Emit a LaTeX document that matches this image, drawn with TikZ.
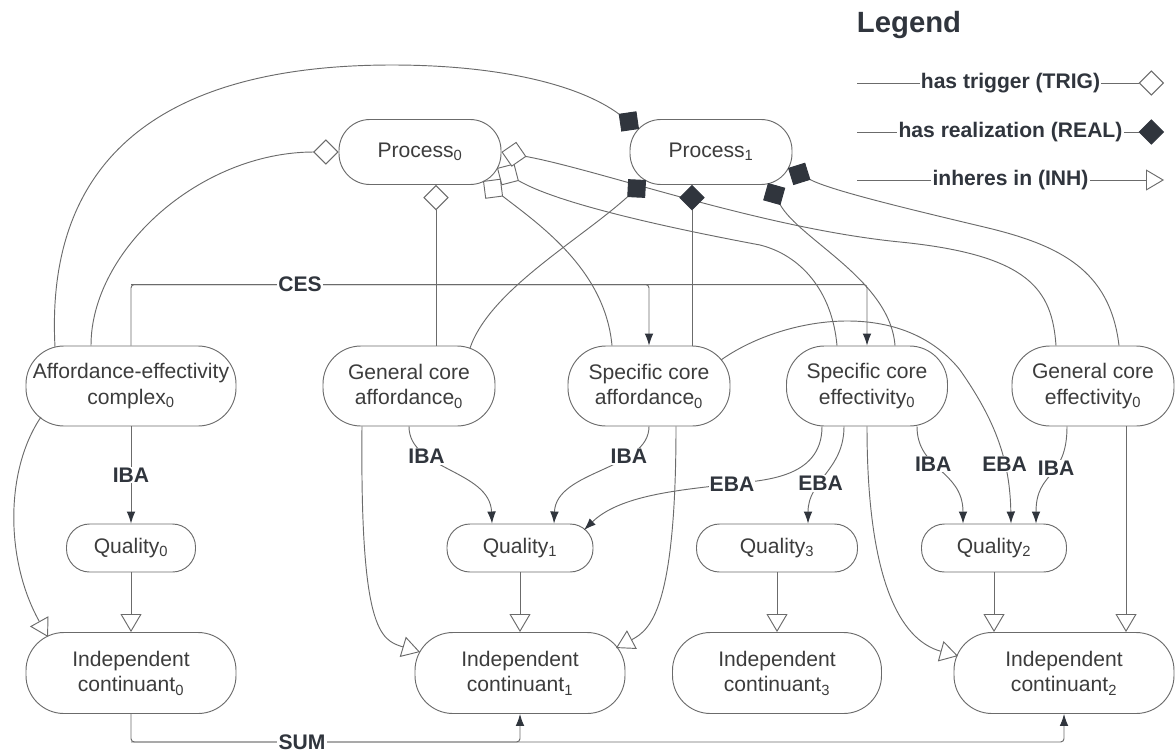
\documentclass[tikz,border=0pt]{standalone}
\usepackage{fontspec}
\setmainfont{Liberation Sans}
\usetikzlibrary{arrows.meta,calc}
\definecolor{edgegray}{HTML}{6B6B6B}
\definecolor{inkdark}{HTML}{30353D}
\definecolor{txtgray}{HTML}{3C3C3C}
\newcommand{\subn}[1]{\textsubscript{#1}}

\begin{document}
\begin{tikzpicture}[x=0.03cm,y=-0.03cm,
  every node/.style={text=txtgray, font=\fontsize{18}{22}\selectfont},
  ent/.style={draw=edgegray, line width=0.8pt, align=center, inner sep=2pt, minimum height=2.4cm, rounded corners=1.14cm},
  proc/.style={ent, minimum width=4.86cm, minimum height=1.95cm, rounded corners=0.93cm},
  qual/.style={ent, minimum height=1.44cm, rounded corners=0.69cm},
  cont/.style={ent, minimum height=2.43cm},
  lbl/.style={fill=white, inner sep=1pt, font=\bfseries\fontsize{18}{22}\selectfont, text=inkdark},
  link/.style={draw=edgegray, line width=0.8pt},
  trig/.style={link, -{Diamond[fill=white, length=0.76cm, width=0.76cm]}},
  real/.style={link, -{Diamond[color=inkdark, fill=inkdark, length=0.76cm, width=0.76cm]}},
  inh/.style={link, -{Triangle[fill=white, length=0.54cm, width=0.63cm]}},
  flow/.style={link, -{Latex[color=inkdark, length=0.36cm, width=0.26cm]}}]
\useasboundingbox (0,0) rectangle (1176,754);

\node[proc] (p0) at (420,152) {Process\subn{0}};
\node[proc] (p1) at (711,152) {Process\subn{1}};

\node[ent, minimum width=6.3cm] (aec) at (131,386) {Affordance-effectivity\\complex\subn{0}};
\node[ent, minimum width=5.16cm] (gca) at (409,386) {General core\\affordance\subn{0}};
\node[ent, minimum width=4.86cm] (sca) at (649,386) {Specific core\\affordance\subn{0}};
\node[ent, minimum width=4.83cm] (sce) at (867,386) {Specific core\\effectivity\subn{0}};
\node[ent, minimum width=4.86cm] (gce) at (1093,386) {General core\\effectivity\subn{0}};

\node[qual, minimum width=3.87cm] (q0) at (131,548) {Quality\subn{0}};
\node[qual, minimum width=4.38cm] (q1) at (520,548) {Quality\subn{1}};
\node[qual, minimum width=4.83cm] (q3) at (777,548) {Quality\subn{3}};
\node[qual, minimum width=4.35cm] (q2) at (994,548) {Quality\subn{2}};

\node[cont, minimum width=6.3cm] (ic0) at (131,673) {Independent\\continuant\subn{0}};
\node[cont, minimum width=6.3cm] (ic1) at (520,673) {Independent\\continuant\subn{1}};
\node[cont, minimum width=6.27cm] (ic3) at (777,673) {Independent\\continuant\subn{3}};
\node[cont, minimum width=6.6cm] (ic2) at (1064,673) {Independent\\continuant\subn{2}};

\draw[trig] ($(aec.north)+(-40,0)$) .. controls (91,250) and (200,152) .. (p0.west);
\draw[trig] ($(gca.north)+(27,0)$) -- ($(p0.south)+(16,0)$);
\draw[trig] ($(sca.north)+(-37,0)$) .. controls (605,270) and (540,225) .. ($(p0.center)+(63,29)$);
\draw[trig] ($(sce.north)+(-30,0)$) .. controls (832,290) and (800,255) .. (760,245) .. controls (680,230) and (560,205) .. ($(p0.center)+(77,16)$);
\draw[trig] ($(gce.north)+(-37,0)$) .. controls (1052,290) and (1030,255) .. (900,242) .. controls (760,228) and (600,170) .. (p0.east);

\draw[real] ($(aec.center)+(-76,-39)$) .. controls (45,160) and (160,65) .. (392,65) .. controls (500,65) and (580,85) .. ($(p1.center)+(-72,-23)$);
\draw[real] ($(gca.center)+(61,-38)$) .. controls (490,290) and (580,240) .. ($(p1.center)+(-65,28)$);
\draw[real] ($(sca.north)+(43,0)$) -- ($(p1.south)+(-19,0)$);
\draw[real] ($(sce.north)+(28,0)$) .. controls (890,280) and (800,240) .. ($(p1.center)+(57,31)$);
\draw[real] ($(gce.north)+(26,0)$) .. controls (1110,270) and (1060,245) .. (984,227) .. controls (900,207) and (830,190) .. ($(p1.center)+(77,16)$);

\coordinate (cesA) at ($(aec.north)+(0,-61)$);
\draw[flow, rounded corners=0.1cm] (aec.north) -- (cesA) -| (sca.north);
\draw[flow, rounded corners=0.1cm] (cesA) -| (sce.north);
\node[lbl] (ces) at ($(cesA)+(169,0)$) {CES};

\coordinate (sumA) at ($(ic0.south)+(0,28)$);
\draw[flow, rounded corners=0.1cm] (ic0.south) -- (sumA) -| (ic1.south);
\draw[flow, rounded corners=0.1cm] (sumA) -| (ic2.south);
\node[lbl] (sum) at ($(sumA)+(171,0)$) {SUM};

\draw[flow] (aec.south) -- node[lbl, pos=0.5] {IBA} (q0.north);
\draw[flow] (gca.south) .. controls (409,470) and (490,470) .. node[lbl, pos=0.3] {IBA} ($(q1.north)+(-28,0)$);
\draw[flow] (sca.south) .. controls (649,470) and (556,470) .. node[lbl, pos=0.3] {IBA} ($(q1.north)+(34,0)$);
\draw[flow] ($(sce.south)+(-45,0)$) .. controls (822,480) and (760,480) .. (732,484) node[lbl] {EBA} .. controls (680,490) and (620,495) .. ($(q1.center)+(64,-18)$);
\draw[flow] ($(sce.south)+(-23,0)$) .. controls (844,470) and (808,480) .. node[lbl, pos=0.6] {EBA} ($(q3.north)+(31,0)$);
\draw[flow] ($(sce.south)+(50,0)$) .. controls (917,470) and (963,470) .. node[lbl, pos=0.4] {IBA} ($(q2.north)+(-31,0)$);
\draw[flow] ($(sca.center)+(72,-26)$) .. controls (780,318) and (900,295) .. (960,370) .. controls (995,420) and (1010,460) .. node[lbl, pos=0.65] {EBA} ($(q2.north)+(17,0)$);
\draw[flow] ($(gce.south)+(-26,0)$) .. controls (1067,480) and (1036,470) .. node[lbl, pos=0.4] {IBA} ($(q2.north)+(42,0)$);

\draw[inh] ($(aec.center)+(-90,31)$) .. controls (5,470) and (5,560) .. ($(ic0.center)+(-83,-36)$);
\draw[inh] ($(gca.south)+(-47,0)$) .. controls (360,630) and (380,640) .. ($(ic1.center)+(-100,-21)$);
\draw[inh] ($(sca.south)+(27,0)$) .. controls (676,610) and (650,630) .. ($(ic1.center)+(96,-25)$);
\draw[inh] (sce.south) .. controls (867,580) and (900,640) .. ($(ic2.center)+(-106,-17)$);
\foreach \q/\c in {q0/ic0,q1/ic1,q3/ic3,q2/ic2}
  \draw[inh] (\q.south) -- (\q.south |- \c.north);
\coordinate (gceB) at ($(gce.south)+(33,0)$);
\draw[inh] (gceB) -- (gceB |- ic2.north);

\node[font=\bfseries\fontsize{25}{29}\selectfont, text=inkdark] (legend) at (909,25) {Legend};
\foreach \y/\t/\s in {83/has trigger (TRIG)/trig,132/has realization (REAL)/real,180/inheres in (INH)/inh}{
  \coordinate (lgA\s) at (857,\y);
  \coordinate (lgB\s) at (1164,\y);
  \draw[\s] (lgA\s) -- (lgB\s) node[lbl, midway] {\t};
}
\end{tikzpicture}
\end{document}
